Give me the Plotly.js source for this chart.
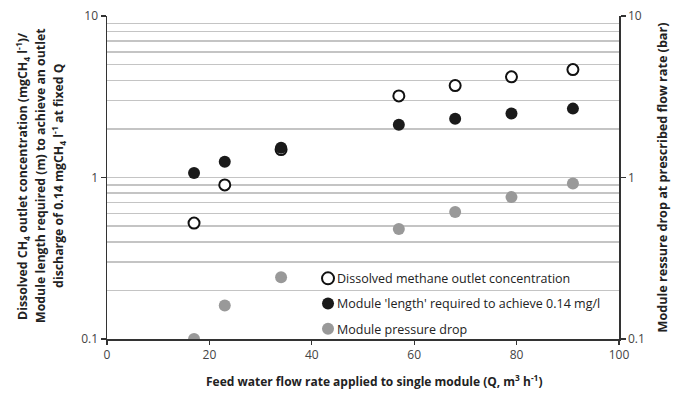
<!DOCTYPE html>
<html>
<head>
<meta charset="utf-8">
<script src="https://cdn.plot.ly/plotly-3.0.1.min.js"></script>
<style>html,body{margin:0;padding:0;background:#fff;}#chart{width:683px;height:393px;}</style>
</head>
<body>
<div id="chart"></div>
<script>
const flowQ = [17, 23, 34, 57, 68, 79, 91];
const methaneOutlet = [0.522, 0.90, 1.49, 3.2, 3.71, 4.2, 4.66];
const moduleLength = [1.065, 1.25, 1.53, 2.12, 2.31, 2.49, 2.67];
const pressureDrop = [0.1, 0.161, 0.241, 0.48, 0.611, 0.756, 0.918];
const yTickVals = [0.1, 1, 10];
const yTickText = ['0.1', '1', '10'];
const xTickVals = [0, 20, 40, 60, 80, 100];
const leftTitleLines = [
  '<b>Dissolved CH<sub>4</sub> outlet concentration (mgCH<sub>4</sub> l<sup>-1</sup>)/</b>',
  '<b>Module length required (m) to achieve an outlet</b>',
  '<b>discharge of 0.14 mgCH<sub>4</sub> l<sup>-1</sup> at fixed Q</b>'
];
const xTitle = '<b>Feed water flow rate applied to single module (Q, m<sup>3</sup> h<sup>-1</sup>)</b>';

const fontFam = '"Open Sans", "Noto Sans", sans-serif';

const traces = [
  {x: flowQ, y: methaneOutlet, mode: 'markers', type: 'scatter', legendgroup: 'a',
   name: 'Dissolved methane outlet concentration',
   marker: {symbol: 'circle', size: 11, color: '#ffffff', line: {color: '#111111', width: 2}}},
  {x: flowQ, y: moduleLength, mode: 'markers', type: 'scatter', legendgroup: 'b',
   name: "Module 'length' required to achieve 0.14 mg/l",
   marker: {symbol: 'circle', size: 12, color: '#1a1a1a', line: {width: 0}}},
  {x: flowQ, y: pressureDrop, mode: 'markers', type: 'scatter', yaxis: 'y2', legendgroup: 'c',
   name: 'Module pressure drop',
   marker: {symbol: 'circle', size: 12, color: '#999999', line: {width: 0}}}
];

const yCommon = {
  type: 'log', range: [-1, 1], tickvals: yTickVals, ticktext: yTickText,
  ticks: 'outside', ticklen: 5, tickcolor: '#333', tickwidth: 1.3,
  showline: true, linecolor: '#333', linewidth: 1.5,
  tickfont: {family: fontFam, size: 12, color: '#444'},
  zeroline: false
};

const annotations = leftTitleLines.map((t, i) => ({
  text: t, xref: 'paper', yref: 'paper', x: (23 + 18 * i - 107) / 512, y: 0.505,
  xanchor: 'center', yanchor: 'middle', textangle: -90, showarrow: false,
  font: {family: fontFam, size: 12.3, color: '#222'}
}));
annotations.push({
  text: xTitle, xref: 'paper', yref: 'paper', x: (374 - 107) / 512, y: (339 - 381) / 323,
  xanchor: 'center', yanchor: 'middle', showarrow: false,
  font: {family: fontFam, size: 12, color: '#222'}
});

const layout = {
  width: 683, height: 393,
  margin: {l: 107, r: 64, t: 16, b: 54},
  paper_bgcolor: '#fff', plot_bgcolor: '#fff',
  showlegend: true,
  legend: {x: 0.3926, y: 0.233, xanchor: 'left', yanchor: 'top', bgcolor: 'rgba(0,0,0,0)',
    font: {family: fontFam, size: 12.5, color: '#222'}, tracegroupgap: 6, itemwidth: 30,
    traceorder: 'grouped', itemsizing: 'constant'},
  annotations: annotations,
  xaxis: {
    range: [0, 100], tickvals: xTickVals, ticks: 'outside', ticklen: 4, tickcolor: '#333', tickwidth: 1.3,
    showline: true, linecolor: '#333', linewidth: 1.5, showgrid: false, zeroline: false,
    tickfont: {family: fontFam, size: 12, color: '#444'}
  },
  yaxis: Object.assign({}, yCommon, {
    showgrid: true, gridcolor: '#c4c4c4', gridwidth: 1.5,
    minor: {dtick: 'D1', showgrid: true, gridcolor: '#c4c4c4', gridwidth: 1.5, ticks: ''}
  }),
  yaxis2: Object.assign({}, yCommon, {
    overlaying: 'y', side: 'right', showgrid: false,
    title: {text: '<b>Module ressure drop at prescribed flow rate (bar)</b>',
      font: {family: fontFam, size: 12.6, color: '#222'}, standoff: 14}
  })
};

Plotly.newPlot('chart', traces, layout, {displayModeBar: false, staticPlot: true}).then(() => {
  document.querySelectorAll('#chart .legendtext').forEach(t => t.setAttribute('x', 29));
});
</script>
</body>
</html>
